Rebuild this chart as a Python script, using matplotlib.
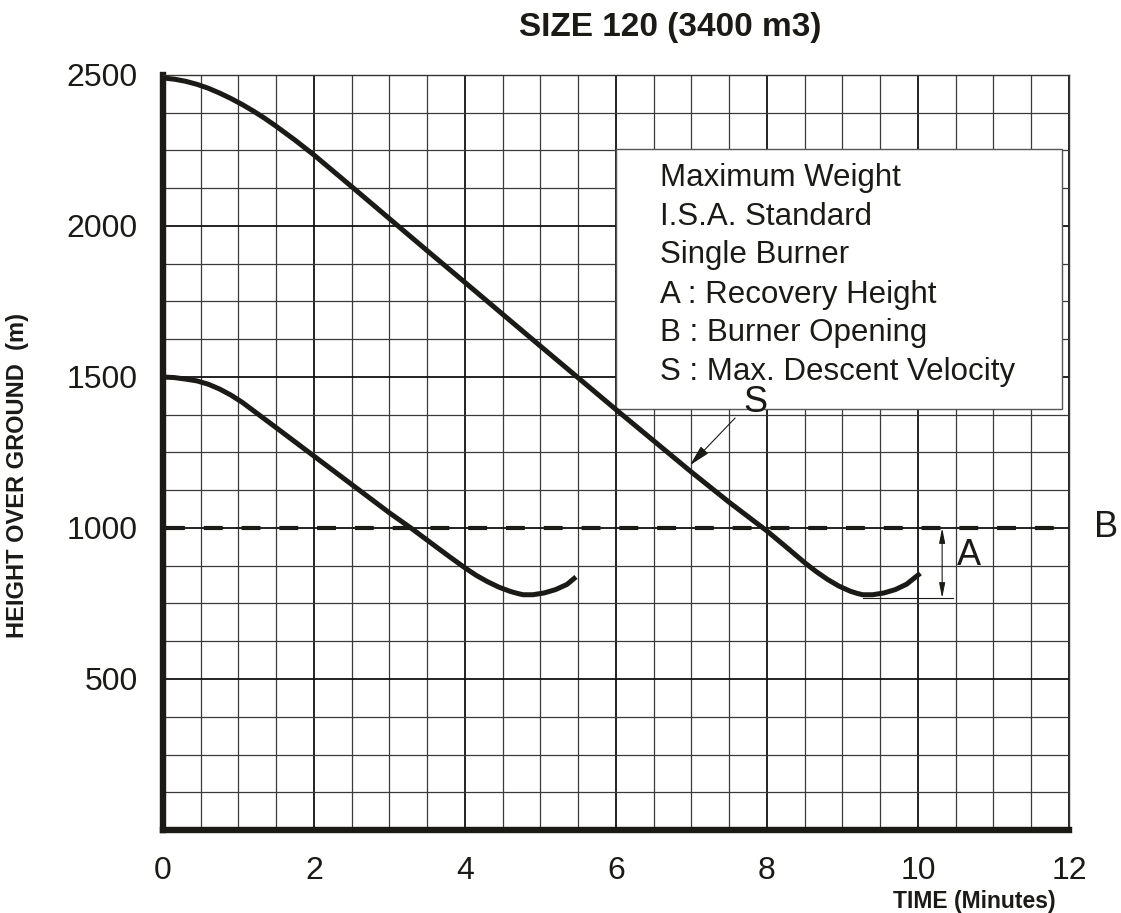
import numpy as np
import matplotlib
matplotlib.use("Agg")
import matplotlib.pyplot as plt
from matplotlib.patches import Rectangle

plt.rcParams['font.family'] = ['Liberation Sans', 'DejaVu Sans']
plt.rcParams['lines.scale_dashes'] = False

# descent profiles, time in minutes / height in metres
upper_t = [0, 0.15, 0.3, 0.45, 0.6, 0.75, 0.9, 1.05, 1.2, 1.35, 1.5, 1.75, 2.0, 2.5,
           3.0, 3.5, 4.0, 5.0, 6.0, 7.0, 7.5, 8.0, 8.25, 8.5, 8.65, 8.8, 8.95,
           9.1, 9.2, 9.27, 9.4, 9.55, 9.7, 9.85, 10.03]
upper_h = [2490, 2486, 2479, 2469, 2456, 2440, 2422, 2402, 2380, 2356, 2330, 2284, 2235, 2130,
           2024, 1918, 1813, 1602, 1392, 1185, 1085, 990, 938, 885, 856, 830, 808,
           791, 783, 779, 779, 785, 796, 814, 850]

lower_t = [0, 0.15, 0.3, 0.45, 0.6, 0.75, 0.9, 1.05, 1.2, 1.35, 1.5, 1.75, 2.0, 2.5,
           3.0, 3.3, 3.6, 3.8, 4.0, 4.15, 4.3, 4.45, 4.6, 4.7, 4.77, 4.9, 5.05,
           5.2, 5.35, 5.47]
lower_h = [1500, 1498, 1493, 1487, 1476, 1460, 1440, 1416, 1388, 1360, 1332, 1285, 1238, 1144,
           1050, 997, 941, 904, 868, 843, 822, 804, 790, 783, 779, 779, 785,
           796, 813, 838]

burner_height = 1000
recovery_low = 768
recovery_t = 10.32
s_point = (6.98, 1208)

x_ticks = [0, 2, 4, 6, 8, 10, 12]
y_ticks = [500, 1000, 1500, 2000, 2500]

notes = ["Maximum Weight", "I.S.A. Standard", "Single Burner",
         "A : Recovery Height", "B : Burner Opening", "S : Max. Descent Velocity"]

ink = '#1c1a17'

fig = plt.figure(figsize=(11.21, 9.13), dpi=100)
ax = fig.add_axes([0.1454, 0.0909, 0.8082, 0.8270])
ax.set_xlim(0, 12)
ax.set_ylim(0, 2500)

# square graph-paper grid
ax.set_xticks(x_ticks)
ax.set_yticks(y_ticks)
ax.set_xticks(np.arange(0, 12.01, 0.5), minor=True)
ax.set_yticks(np.arange(0, 2501, 125), minor=True)
ax.grid(which='minor', color='#3a3a3a', lw=0.9)
ax.grid(which='major', color='#111111', lw=1.3)
ax.set_axisbelow(True)
ax.tick_params(which='both', length=0)
ax.tick_params(axis='x', labelsize=23, pad=19, labelcolor=ink)
ax.tick_params(axis='y', labelsize=23, pad=18, labelcolor=ink)

for side in ['top', 'right']:
    ax.spines[side].set_linewidth(1.0)
    ax.spines[side].set_color('#333333')
for side in ['left', 'bottom']:
    ax.spines[side].set_linewidth(4.6)
    ax.spines[side].set_color(ink)
    ax.spines[side].set_capstyle('projecting')

# burner opening level (dash period = one half-minute cell)
ax.plot([0.04, 12], [burner_height, burner_height], color=ink, lw=3,
        dashes=(13.6, 13.6), dash_capstyle='butt', zorder=3)

ax.plot(upper_t, upper_h, color=ink, lw=3.6, solid_joinstyle='round',
        solid_capstyle='butt', zorder=5)
ax.plot(lower_t, lower_h, color=ink, lw=3.6, solid_joinstyle='round',
        solid_capstyle='butt', zorder=5)

# notes box
ax.add_patch(Rectangle((6.0, 1394), 5.91, 861, facecolor='white',
                       edgecolor='#555555', lw=1.0, zorder=4))
note_y = [2159, 2030, 1904, 1772, 1646, 1517]
for txt, yy in zip(notes, note_y):
    ax.text(6.58, yy, txt, fontsize=22.5, color=ink, ha='left', va='center', zorder=6)

# recovery height marker
ax.plot([9.27, 10.46], [recovery_low, recovery_low], color=ink, lw=0.8, zorder=5)
ax.annotate('', xy=(recovery_t, burner_height), xytext=(recovery_t, recovery_low),
            arrowprops=dict(arrowstyle='<|-|>,head_length=0.9,head_width=0.18',
                            lw=0.8, color=ink, shrinkA=0, shrinkB=0), zorder=6)
ax.text(10.67, 910, 'A', fontsize=26, color=ink, ha='center', va='center', zorder=6)
ax.text(12.49, burner_height, 'B', fontsize=26, color=ink, ha='center', va='center',
        clip_on=False, zorder=6)

# max descent velocity pointer
ax.annotate('S', xy=s_point, xytext=(7.85, 1417), fontsize=26, color=ink,
            ha='center', va='center', zorder=7,
            arrowprops=dict(arrowstyle='-|>,head_length=0.5,head_width=0.12',
                            lw=0.8, color=ink, shrinkA=6, shrinkB=0,
                            relpos=(0.0, 0.3)))

ax.set_xlabel('TIME (Minutes)', fontsize=16.5, fontweight='bold', color=ink)
ax.xaxis.set_label_coords(0.896, -0.079)
ax.set_ylabel('HEIGHT OVER GROUND  (m)', fontsize=17, fontweight='bold', color=ink)
ax.yaxis.set_label_coords(-0.148, 0.47)

fig.text(0.598, 0.970, 'SIZE 120 (3400 m3)', fontsize=24, fontweight='bold',
         color=ink, ha='center', va='center')

fig.savefig('out.png', dpi=100, facecolor='white')
